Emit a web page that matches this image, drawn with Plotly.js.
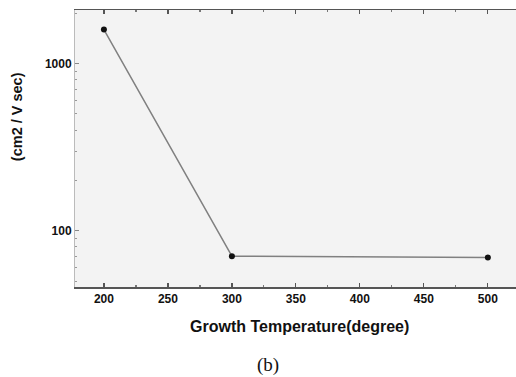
<!DOCTYPE html>
<html>
<head>
<meta charset="utf-8">
<script src="https://cdn.plot.ly/plotly-3.0.1.min.js"></script>
<style>html,body{margin:0;padding:0;background:#fff;}#chart{width:516px;height:377px;}</style>
</head>
<body>
<div id="chart"></div>
<script>
const temperature = [200, 300, 500];
const mobility = [1600, 70.5, 69.3];
const xTicks = [200, 250, 300, 350, 400, 450, 500];
const yTicks = [100, 1000];
const yTickLabels = ['100', '1000'];
const yMinor = [50, 60, 70, 80, 90, 200, 300, 400, 500, 600, 700, 800, 900, 2000];

const trace = {
  x: temperature,
  y: mobility,
  type: 'scatter',
  mode: 'lines+markers',
  line: {color: '#808080', width: 1.5},
  marker: {color: '#111', size: 6, symbol: 'circle'},
  showlegend: false,
  hoverinfo: 'skip'
};

const layout = {
  width: 516,
  height: 377,
  margin: {l: 75, r: 0, t: 10, b: 90},
  paper_bgcolor: '#ffffff',
  plot_bgcolor: '#f3f3f3',
  font: {family: 'Liberation Sans, Arial, sans-serif', color: '#111'},
  xaxis: {
    range: [177.4, 522],
    tickvals: xTicks,
    ticktext: xTicks.map(String),
    ticks: 'inside',
    ticklen: 4,
    tickwidth: 1.2,
    tickcolor: '#555',
    showline: true,
    linecolor: '#555',
    linewidth: 1.5,
    mirror: 'ticks',
    showgrid: false,
    zeroline: false,
    tickfont: {size: 12, family: 'Liberation Sans, Arial, sans-serif', weight: 'bold', color: '#111'},
    minor: {dtick: 25, tick0: 0, ticks: 'inside', ticklen: 2, tickcolor: '#777', showgrid: false}
  },
  yaxis: {
    type: 'log',
    range: [Math.log10(46.1), Math.log10(2095)],
    tickvals: yTicks,
    ticktext: yTickLabels,
    ticks: 'inside',
    ticklen: 4,
    tickcolor: '#888',
    showline: true,
    linecolor: '#bbb',
    linewidth: 1,
    showgrid: false,
    zeroline: false,
    tickfont: {size: 12, family: 'Liberation Sans, Arial, sans-serif', weight: 'bold', color: '#111'},
    minor: {tickvals: yMinor, ticks: 'inside', ticklen: 2, tickcolor: '#999', showgrid: false}
  },
  annotations: [
    {text: '<b>(cm2 / V sec)</b>', xref: 'paper', yref: 'paper', x: -0.131, y: 0.614,
     xanchor: 'center', yanchor: 'middle', textangle: -90, showarrow: false,
     font: {size: 14.5, family: 'Liberation Sans, Arial, sans-serif', color: '#111'}},
    {text: '<b>Growth Temperature(degree)</b>', xref: 'paper', yref: 'paper', x: 0.51, y: -0.144,
     xanchor: 'center', yanchor: 'middle', showarrow: false,
     font: {size: 16, family: 'Liberation Sans, Arial, sans-serif', color: '#111'}},
    {text: '(b)', xref: 'paper', yref: 'paper', x: 0.438, y: -0.28,
     xanchor: 'center', yanchor: 'middle', showarrow: false,
     font: {size: 19, family: 'Liberation Serif, Times New Roman, serif', color: '#111'}}
  ]
};

Plotly.newPlot('chart', [trace], layout, {displayModeBar: false, staticPlot: true});
</script>
</body>
</html>
